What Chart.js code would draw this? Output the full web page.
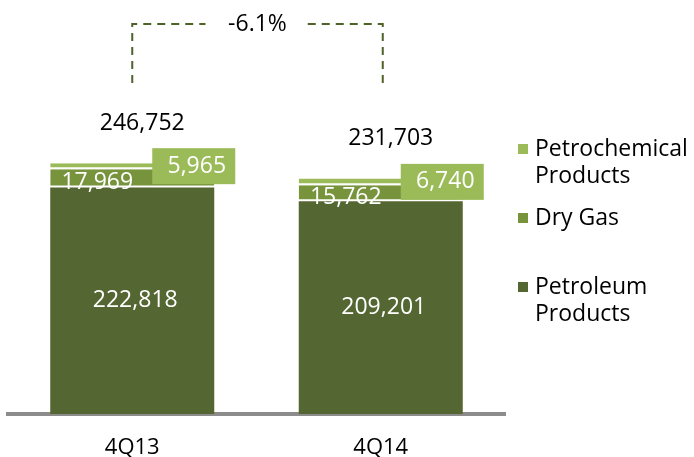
<!DOCTYPE html>
<html>
<head>
<meta charset="utf-8">
<script src="https://cdn.jsdelivr.net/npm/chart.js@4.4.1/dist/chart.umd.min.js"></script>
<style>
  body { margin: 0; background: #fff; }
  #wrap { width: 694px; height: 457px; }
</style>
</head>
<body>
<div id="wrap"><canvas id="report"></canvas></div>
<script>
const quarters = ['4Q13', '4Q14'];
const petroleum = [222818, 209201];
const dryGas = [17969, 15762];
const petrochemical = [5965, 6740];
const totals = [246752, 231703];

const FONT = '"Open Sans", sans-serif';
const fmt = v => v.toLocaleString('en-US');

// labels, boxes, totals, bracket and legend
const decor = {
    id: 'decor',
    afterDatasetsDraw(chart) {
        const ctx = chart.ctx;
        const x = chart.scales.x;
        ctx.save();
        ctx.font = '23px ' + FONT;
        ctx.textAlign = 'center';
        ctx.textBaseline = 'middle';

        quarters.forEach((q, i) => {
            const p = chart.getDatasetMeta(0).data[i];
            const d = chart.getDatasetMeta(1).data[i];
            const c = chart.getDatasetMeta(2).data[i];

            // petroleum value
            ctx.fillStyle = '#fff';
            ctx.fillText(fmt(petroleum[i]), p.x + 3, (p.y + p.base) / 2);

            // dry gas value
            ctx.fillText(fmt(dryGas[i]), d.x - 35, (d.y + d.base) / 2 + 4);

            // petrochemical box
            const right = c.x + c.width / 2 + 21;
            const left = c.x + 20;
            const cy = (c.y + c.base) / 2;
            ctx.fillStyle = '#9bbb59';
            ctx.fillRect(left, cy - 18, right - left, 36);
            ctx.fillStyle = '#fff';
            ctx.fillText(fmt(petrochemical[i]), (left + right) / 2 + 3, cy);

            // total
            ctx.fillStyle = '#000';
            ctx.fillText(fmt(totals[i]), c.x + 10, c.y - 40);
        });

        // bracket with change
        const x0 = x.getPixelForValue(0);
        const x1 = x.getPixelForValue(1) + 2;
        const yTop = 24, yBot = 83;
        const change = (totals[1] - totals[0]) / totals[0] * 100;
        const label = change.toFixed(1) + '%';
        const mid = (x0 + x1) / 2;
        ctx.strokeStyle = '#4f6228';
        ctx.lineWidth = 2;
        ctx.setLineDash([8, 6]);
        ctx.beginPath();
        ctx.moveTo(x0, yBot); ctx.lineTo(x0, yTop); ctx.lineTo(mid - 52, yTop);
        ctx.moveTo(x1, yBot); ctx.lineTo(x1, yTop); ctx.lineTo(mid + 50, yTop);
        ctx.stroke();
        ctx.setLineDash([]);
        ctx.fillStyle = '#000';
        ctx.fillText(label, mid, yTop);

        // legend
        const items = [
            { lines: ['Petrochemical', 'Products'], color: '#9bbb59', y: 149 },
            { lines: ['Dry Gas'], color: '#77933c', y: 218 },
            { lines: ['Petroleum', 'Products'], color: '#546631', y: 287 }
        ];
        ctx.textAlign = 'left';
        items.forEach(it => {
            ctx.fillStyle = it.color;
            ctx.fillRect(518, it.y - 5, 10, 10);
            ctx.fillStyle = '#000';
            it.lines.forEach((t, k) => ctx.fillText(t, 535, it.y + k * 27));
        });
        ctx.restore();
    }
};

new Chart(document.getElementById('report'), {
    type: 'bar',
    data: {
        labels: quarters,
        datasets: [{
            label: 'Petroleum Products',
            data: petroleum,
            backgroundColor: '#546631',
            borderWidth: 0
        }, {
            label: 'Dry Gas',
            data: dryGas,
            backgroundColor: '#77933c',
            borderColor: '#fff',
            borderWidth: { top: 0, left: 0, right: 0, bottom: 2 },
            borderSkipped: false
        }, {
            label: 'Petrochemical Products',
            data: petrochemical,
            backgroundColor: '#9bbb59',
            borderColor: '#fff',
            borderWidth: { top: 0, left: 0, right: 0, bottom: 2 },
            borderSkipped: false
        }]
    },
    options: {
        responsive: true,
        maintainAspectRatio: false,
        animation: false,
        barPercentage: 0.66,
        categoryPercentage: 1,
        layout: { padding: { left: 8, right: 189, top: 109, bottom: 0 } },
        plugins: {
            legend: { display: false },
            tooltip: { enabled: false }
        },
        scales: {
            x: {
                stacked: true,
                grid: { display: false },
                border: { display: true, color: '#8c8c8c', width: 4 },
                ticks: { color: '#000', font: { family: FONT, size: 22 }, padding: 13 },
                afterFit(scale) { scale.height = 43; }
            },
            y: {
                stacked: true,
                display: false,
                min: 0,
                max: 300000
            }
        }
    },
    plugins: [decor]
});
</script>
</body>
</html>
